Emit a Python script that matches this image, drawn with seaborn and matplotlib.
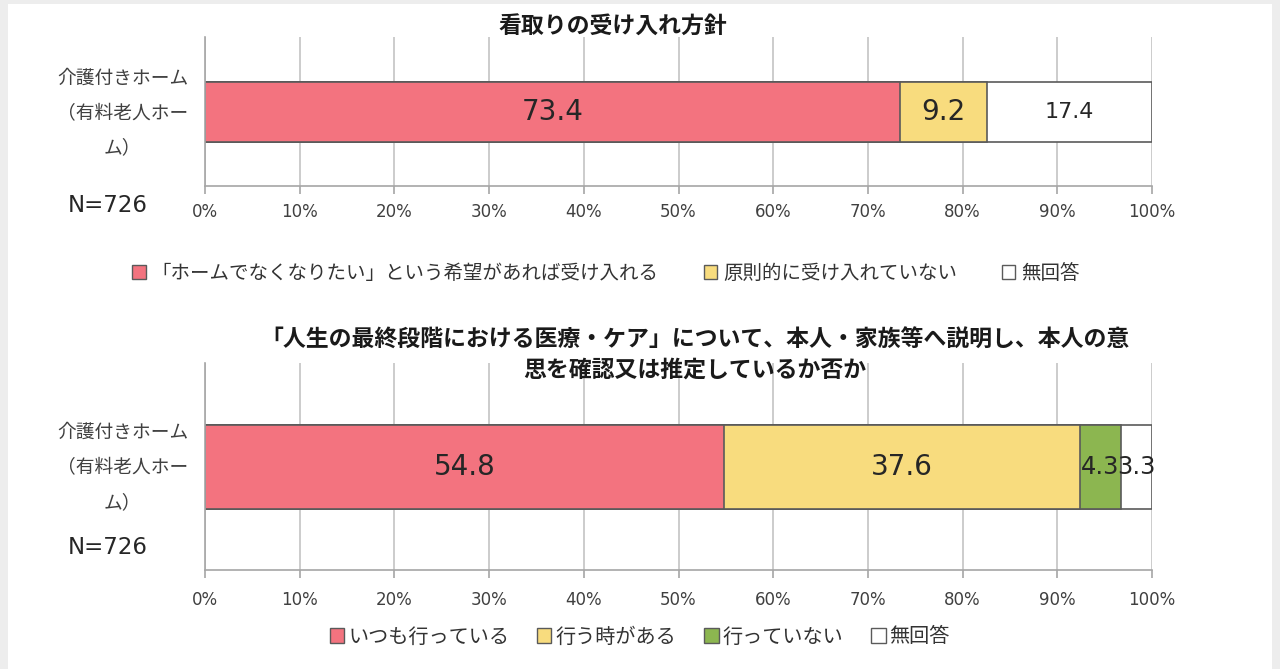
import matplotlib
matplotlib.use("Agg")
import matplotlib.pyplot as plt
import seaborn as sns
import numpy as np
from matplotlib.patches import Patch, Rectangle

sns.set_theme(style="white")
plt.rcParams['font.family'] = ['Noto Sans CJK JP', 'DejaVu Sans']

# ---------------- data ----------------
category = "介護付きホーム\n（有料老人ホー\nム）"
n_label = "N=726"

title1 = "看取りの受け入れ方針"
labels1 = ["「ホームでなくなりたい」という希望があれば受け入れる", "原則的に受け入れていない", "無回答"]
values1 = [73.4, 9.2, 17.4]

title2 = "「人生の最終段階における医療・ケア」について、本人・家族等へ説明し、本人の意\n思を確認又は推定しているか否か"
labels2 = ["いつも行っている", "行う時がある", "行っていない", "無回答"]
values2 = [54.8, 37.6, 4.3, 3.3]

xticks = [0, 10, 20, 30, 40, 50, 60, 70, 80, 90, 100]
xticklabels = ["0%", "10%", "20%", "30%", "40%", "50%", "60%", "70%", "80%", "90%", "100%"]

colors1 = ["#F3737F", "#F8DC7E", "#FFFFFF"]
colors2 = ["#F3737F", "#F8DC7E", "#8CB650", "#FFFFFF"]

W, H = 1280, 669
fig = plt.figure(figsize=(W / 100, H / 100), dpi=100)
fig.patch.set_facecolor("#EDEDED")
fig.add_artist(Rectangle((8 / W, 0), (1272 - 8) / W, 1 - 4 / H, transform=fig.transFigure,
                         facecolor="white", edgecolor="none", zorder=0))

EDGE = "#5A5A5A"


def draw(ax, values, colors, width, ylim, value_sizes, xpad, label_shift):
    cum = np.cumsum(values)
    for i in reversed(range(len(values))):
        sns.barplot(x=[cum[i]], y=[category], orient="h", color=colors[i], saturation=1,
                    width=width, edgecolor=EDGE, linewidth=1.2, ax=ax)
    starts = cum - np.array(values)
    for v, s, fs in zip(values, starts, value_sizes):
        ax.text(s + v / 2, 0, f"{v:.1f}", ha="center", va="center", fontsize=fs,
                color="#262626", family="DejaVu Sans", zorder=5)
    ax.set_xlim(0, 100)
    ax.set_ylim(*ylim)
    ax.set_xticks(xticks, xticklabels)
    # label sits slightly above the bar centre, as in the original layout
    ax.set_yticks([-label_shift], [category], fontsize=13.5, linespacing=1.87,
                  multialignment="center", color="#404040")
    ax.tick_params(axis="y", length=0, pad=12)
    ax.tick_params(axis="x", bottom=True, length=6, width=1.2, color="#A6A6A6",
                   labelsize=12, labelcolor="#404040", pad=xpad)
    for lab in ax.get_xticklabels():
        lab.set_family("DejaVu Sans")
    ax.grid(axis="x", color="#C4C4C4", lw=1.2)
    ax.set_axisbelow(True)
    for s in ["top", "right"]:
        ax.spines[s].set_visible(False)
    for s in ["left", "bottom"]:
        ax.spines[s].set_color("#A6A6A6")
        ax.spines[s].set_linewidth(1.2)
    ax.set_xlabel("")
    ax.set_ylabel("")
    ax.patch.set_alpha(0)


# top chart
ax1 = fig.add_axes([205 / W, 1 - 186 / H, (1152 - 205) / W, 149 / H])
draw(ax1, values1, colors1, 0.4, (0.493, -0.5), [20, 20, 16], 6, 0.055)
fig.text(613 / W, 1 - 27 / H, title1, ha="center", va="center", fontsize=16.5,
         fontweight="bold", color="#1a1a1a")
fig.text(68 / W, 1 - 205 / H, n_label, ha="left", va="center", fontsize=16.5,
         color="#262626", family="DejaVu Sans")
h1 = [Patch(facecolor=c, edgecolor=EDGE, linewidth=1.0) for c in colors1]
fig.legend(h1, labels1, loc="center", bbox_to_anchor=(606 / W, 1 - 273 / H), ncol=3,
           frameon=False, fontsize=14, handlelength=0.7, handleheight=0.7,
           handletextpad=0.3, columnspacing=2.3, labelcolor="#333333")

# bottom chart
ax2 = fig.add_axes([205 / W, 1 - 570 / H, (1152 - 205) / W, 207 / H])
draw(ax2, values2, colors2, 0.4, (0.49, -0.495), [20, 20, 17.5, 17.5], 9, 0.042)
fig.text(695 / W, 1 - 355 / H, title2, ha="center", va="center", fontsize=16.5,
         fontweight="bold", color="#1a1a1a", linespacing=1.35)
fig.text(68 / W, 1 - 548 / H, n_label, ha="left", va="center", fontsize=16.5,
         color="#262626", family="DejaVu Sans")
h2 = [Patch(facecolor=c, edgecolor=EDGE, linewidth=1.0) for c in colors2]
fig.legend(h2, labels2, loc="center", bbox_to_anchor=(640 / W, 1 - 637 / H), ncol=4,
           frameon=False, fontsize=14.5, handlelength=0.7, handleheight=0.7,
           handletextpad=0.2, columnspacing=1.4, labelcolor="#333333")

fig.savefig("out.png", dpi=100)
